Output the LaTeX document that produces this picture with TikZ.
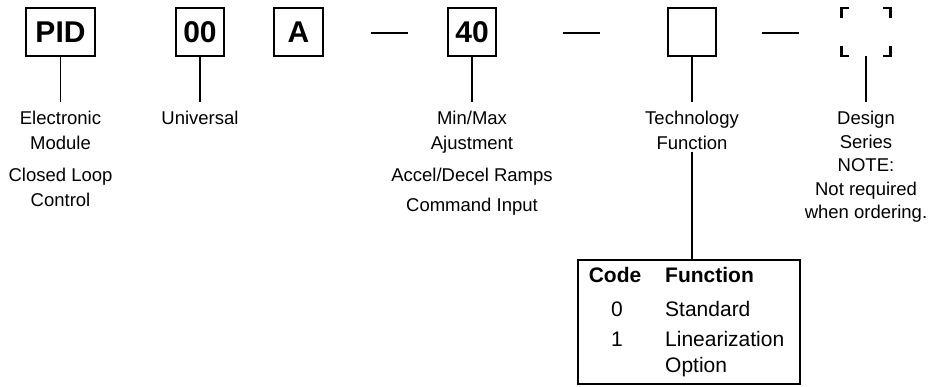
\documentclass[tikz,border=0pt]{standalone}
\usepackage{fontspec}
\setmainfont{Liberation Sans}
\usetikzlibrary{positioning}

\tikzset{
	codebox/.style={draw, line width=1.2pt, minimum width=48pt, minimum height=48pt, inner sep=0pt, font=\fontsize{30}{36}\selectfont\bfseries},
	desc/.style={anchor=north, align=center, inner xsep=0pt, inner ysep=9pt, font=\fontsize{18.5}{25}\selectfont},
	stem/.style={line width=1.2pt},
	sepline/.style={line width=1.4pt},
	corner/.style={line width=2.5pt},
	cell/.style={inner sep=0pt, font=\fontsize{21}{25}\selectfont},
}

\begin{document}
\begin{tikzpicture}[x=1pt, y=-1pt]
		\useasboundingbox (0,0) rectangle (929,386);
		
		% Code boxes
		\node[codebox, minimum width=69pt] (pid) at (60.5,32) {PID};
		\node[codebox] (zero) at (200,32) {00};
		\node[codebox, minimum width=49pt] (a) at (298.5,32) {A};
		\node[codebox] (forty) at (472,32) {40};
		\node[codebox] (tech) at (692,32) {};
		\node[minimum width=49pt, minimum height=48pt, inner sep=0pt] (ser) at (866,32) {};
		
		% Separators
		\foreach \x in {371, 563, 762} {
			\draw[sepline] (\x,33) -- ++(37,0);
		}
		
		% Design series corners
		\draw[corner] ([xshift=8pt]ser.north west) -- (ser.north west) -- ([yshift=-10pt]ser.north west);
		\draw[corner] ([xshift=-8pt]ser.north east) -- (ser.north east) -- ([yshift=-10pt]ser.north east);
		\draw[corner] ([xshift=8pt]ser.south west) -- (ser.south west) -- ([yshift=10pt]ser.south west);
		\draw[corner] ([xshift=-8pt]ser.south east) -- (ser.south east) -- ([yshift=10pt]ser.south east);
		
		% Descriptions
		\node[desc] (pidtxt) at (60.5,102) {Electronic\\Module\\[6.5pt]Closed Loop\\Control};
		\node[desc] (zerotxt) at (200,102) {Universal};
		\node[desc] (fortytxt) at (472,102) {Min/Max\\Ajustment\\[6.5pt]Accel/Decel Ramps\\[5pt]Command Input};
		\node[desc] (techtxt) at (692,102) {Technology\\Function};
		\node[desc, font=\fontsize{18.5}{23.5}\selectfont] (sertxt) at (866,102) {Design\\Series\\NOTE:\\Not required\\when ordering.};
		
		% Stems
		\draw[stem] (pid) -- (pidtxt);
		\draw[stem] (zero) -- (zerotxt);
		\draw[stem] (forty) -- (fortytxt);
		\draw[stem] (tech) -- (techtxt);
		\draw[stem] (ser) -- (sertxt);
		
		% Function table
		\node[draw, line width=1.2pt, minimum width=222pt, minimum height=124pt, inner sep=0pt] (tbl) at (689,322) {};
		\draw[stem] ([yshift=7pt]techtxt.south) -- (techtxt.south |- tbl.north);
		
		\node[cell, anchor=base, font=\fontsize{21}{25}\selectfont\bfseries] (codehd) at (615,282) {Code};
		\node[cell, anchor=base west, font=\fontsize{21}{25}\selectfont\bfseries] (funchd) at (665,282) {Function};
		\node[cell, anchor=base] (code0) at (617,316) {0};
		\node[cell, anchor=base west] (func0) at (665,316) {Standard};
		\node[cell, anchor=base] (code1) at (617,346) {1};
		\node[cell, anchor=base west] (func1) at (665,346) {Linearization};
		\node[cell, anchor=base west] (func1b) at (665,372) {Option};
	\end{tikzpicture}
\end{document}
